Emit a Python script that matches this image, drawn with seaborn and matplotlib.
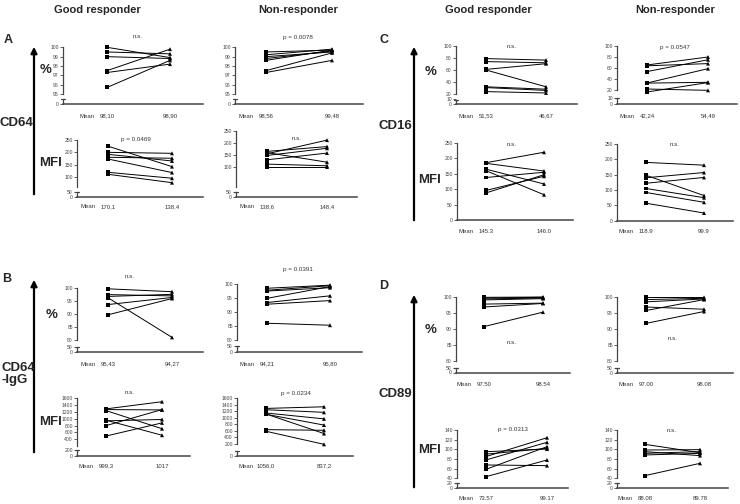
import numpy as np
import pandas as pd
import seaborn as sns
import matplotlib.pyplot as plt
from matplotlib.lines import Line2D
from matplotlib.patches import FancyArrowPatch

# ---- datos (antes / despues) ----
cd64_pct_good_pre = [100, 99.5, 99.0, 97.5, 97.3, 95.7]
cd64_pct_good_post = [98.9, 99.3, 98.8, 99.8, 98.2, 98.6]
cd64_pct_non_pre = [99.5, 99.2, 99.0, 98.8, 98.6, 97.5, 97.3]
cd64_pct_non_post = [99.7, 99.8, 99.5, 99.6, 99.7, 99.4, 98.6]
cd64_mfi_good_pre = [225, 200, 192, 180, 173, 119, 111]
cd64_mfi_good_post = [142, 196, 165, 176, 118, 95, 77]
cd64_mfi_non_pre = [165, 160, 155, 148, 130, 112, 100]
cd64_mfi_non_post = [185, 120, 212, 178, 158, 105, 100]

igg_pct_good_pre = [99.5, 97.3, 96.6, 96.1, 93.5, 89.6]
igg_pct_good_post = [98.4, 96.8, 97.4, 81.0, 96.2, 95.8]
igg_mfi_good_pre = [1290, 1270, 1240, 960, 940, 800, 495]
igg_mfi_good_post = [1500, 1260, 710, 519, 980, 1270, 880]
igg_pct_non_pre = [98.3, 97.6, 97.3, 94.7, 93.2, 92.6, 85.8]
igg_pct_non_post = [99.4, 99.2, 98.5, 98.9, 95.6, 93.9, 85.1]
igg_mfi_non_pre = [1290, 1250, 1150, 1120, 1110, 640, 590]
igg_mfi_non_post = [1340, 1170, 970, 520, 780, 620, 190]

cd16_pct_good_pre = [79, 74, 61, 60, 32, 30.7, 24]
cd16_pct_good_post = [76.5, 72, 70.5, 32, 28, 26, 21.7]
cd16_mfi_good_pre = [186, 184, 165, 160, 138, 96, 88]
cd16_mfi_good_post = [220, 159, 117, 82, 155, 142, 147]
cd16_pct_non_pre = [65.5, 64, 53.5, 32.7, 32.5, 21.8, 16.4]
cd16_pct_non_post = [80, 68, 75, 58.8, 34, 19.4, 33.5]
cd16_mfi_non_pre = [190, 148, 140, 122, 105, 92, 57]
cd16_mfi_non_post = [181, 82, 157, 141, 75, 60, 25]

cd89_pct_good_pre = [99.8, 99.6, 99.3, 99.0, 97.7, 96.8, 90.7]
cd89_pct_good_post = [99.9, 99.8, 99.6, 99.4, 98.0, 97.9, 95.2]
cd89_mfi_good_pre = [95, 90, 85, 78, 67.6, 58.6, 43.4]
cd89_mfi_good_post = [100.7, 102, 124, 114.5, 66.2, 105.5, 77.9]
cd89_pct_non_pre = [99.8, 99.1, 98.4, 96.8, 95.7, 91.7]
cd89_pct_non_post = [99.8, 99.5, 99.3, 96.1, 99.1, 95.4]
cd89_mfi_non_pre = [110.3, 98.6, 95.2, 91.7, 88.3, 45.5]
cd89_mfi_non_post = [93, 99.3, 86.9, 95.2, 91.7, 71]

# medias y p-valores tal como aparecen
means = {
    'a_pg': ('98,10', '98,90'), 'a_pn': ('98,56', '99,48'),
    'a_mg': ('170,1', '138,4'), 'a_mn': ('138,6', '148,4'),
    'b_pg': ('95,43', '94,27'), 'b_pn': ('94,21', '95,80'),
    'b_mg': ('999,3', '1017'), 'b_mn': ('1056,0', '837,2'),
    'c_pg': ('51,53', '46,67'), 'c_pn': ('42,24', '54,49'),
    'c_mg': ('145.3', '146.0'), 'c_mn': ('118.9', '99.9'),
    'd_pg': ('97.50', '98.54'), 'd_pn': ('97.00', '98.08'),
    'd_mg': ('73.57', '99.17'), 'd_mn': ('88.08', '89.78'),
}
notes = {
    'a_pg': 'n.s.', 'a_pn': 'p = 0.0078', 'a_mg': 'p = 0.0469', 'a_mn': 'n.s.',
    'b_pg': 'n.s.', 'b_pn': 'p = 0.0391', 'b_mg': 'n.s.', 'b_mn': 'p = 0.0234',
    'c_pg': 'n.s.', 'c_pn': 'p = 0.0547', 'c_mg': 'n.s.', 'c_mn': 'n.s.',
    'd_pg': 'n.s.', 'd_pn': 'n.s.', 'd_mg': 'p = 0.0313', 'd_mn': 'n.s.',
}

W, H = 740, 504
AX_C = '#444444'

sns.set_theme(style='ticks')
plt.rcParams['font.family'] = ['Liberation Sans', 'DejaVu Sans']

fig = plt.figure(figsize=(7.4, 5.04), dpi=100)


def fx(px):
    return px / W


def fy(py):
    return 1 - py / H


def fig_line(xs, ys, color=AX_C, lw=0.9):
    fig.add_artist(Line2D([fx(x) for x in xs], [fy(y) for y in ys],
                          transform=fig.transFigure, color=color, lw=lw))


def fig_text(x, y, s, **kw):
    kw.setdefault('ha', 'center')
    kw.setdefault('va', 'center')
    fig.text(fx(x), fy(y), s, **kw)


def draw_panel(key, pre, post, g):
    (v1, p1), (v2, p2) = g['ref']
    k = (p2 - p1) / (v1 - v2)

    def val(py):
        return v1 + (p1 - py) / k

    top_px = p1 - 4
    ax = fig.add_axes([fx(g['x0']), fy(g['base']), (g['x1'] - g['x0']) / W,
                       (g['base'] - top_px) / H])
    ax.set_facecolor('none')
    span = g['xr'] - g['xl']

    n = len(pre)
    df = pd.DataFrame({'id': list(range(n)) * 2,
                       't': [0] * n + [1] * n,
                       'v': list(pre) + list(post)})
    sns.lineplot(data=df, x='t', y='v', units='id', estimator=None,
                 color='black', lw=0.7, ax=ax, legend=False)
    sns.scatterplot(data=df, x='t', y='v', style='t', markers={0: 's', 1: '^'},
                    color='black', s=8, linewidth=0, ax=ax, legend=False)
    ax.set_ylim(val(g['base']), val(top_px))
    ax.set_xlim((g['x0'] - g['xl']) / span, (g['x1'] - g['xl']) / span)

    ticks = g['ticks']
    lower = g.get('lower', [])
    ax.set_yticks(list(ticks) + [val(py) for _, py in lower],
                  [str(t) for t in ticks] + [lab for lab, _ in lower])
    ax.set_xticks([])
    ax.set_xlabel('')
    ax.set_ylabel('')
    ax.tick_params(axis='y', length=2, width=0.6, pad=1, labelsize=3.6,
                   colors=AX_C)
    for s in ['top', 'right']:
        ax.spines[s].set_visible(False)
    ax.spines['left'].set_bounds(val(g['low']), ticks[0])
    ax.spines['left'].set_color(AX_C)
    ax.spines['left'].set_linewidth(0.9)
    ax.spines['bottom'].set_color(AX_C)
    ax.spines['bottom'].set_linewidth(1.1)

    # tramo inferior del eje cortado
    if lower:
        brk = min(py for _, py in lower)
        if brk >= g['base'] - 0.5:
            brk = g['base'] - 5
        fig_line([g['x0'], g['x0']], [g['base'], brk])
        fig_line([g['x0'] - 2, g['x0'] + 2], [brk, brk])

    # texto p / n.s.
    fig_text(g['note'][0], g['note'][1], notes[key], fontsize=4.5, color='#333333')
    # fila de medias
    my = g['mean_y']
    fig_text(g['xl'] - 20, my, 'Mean', fontsize=4.3, color='#333333')
    fig_text(g['xl'], my, means[key][0], fontsize=4.3, color='#333333')
    fig_text(g['xr'], my, means[key][1], fontsize=4.3, color='#333333')


pct_a = [100, 99, 98, 97, 96, 95]
mfi_a = [250, 200, 150, 100]
pct_bd = [100, 95, 90, 85, 80]
mfi_bg = [1600, 1400, 1200, 1000, 800, 600, 400]
mfi_bn = [1600, 1400, 1200, 1000, 800, 600, 400, 200]
pct_c = [100, 80, 60, 40, 20]
mfi_c = [250, 200, 150, 100, 50, 0]
mfi_d = [140, 120, 100, 80, 60, 40]

panels = [
    ('a_pg', cd64_pct_good_pre, cd64_pct_good_post,
     dict(x0=63, x1=203, base=104, ref=((100, 47.3), (95, 94)), low=94, ticks=pct_a,
          lower=[('0', 104)], xl=107, xr=170, note=(138, 37), mean_y=116)),
    ('a_pn', cd64_pct_non_pre, cd64_pct_non_post,
     dict(x0=235, x1=363, base=104, ref=((100, 47.3), (95, 94)), low=94, ticks=pct_a,
          lower=[('0', 104)], xl=266, xr=332, note=(298, 37), mean_y=116)),
    ('a_mg', cd64_mfi_good_pre, cd64_mfi_good_post,
     dict(x0=77, x1=203, base=197, ref=((250, 140), (100, 177)), low=187, ticks=mfi_a,
          lower=[('50', 192), ('0', 197)], xl=108, xr=172, note=(136, 140), mean_y=207)),
    ('a_mn', cd64_mfi_non_pre, cd64_mfi_non_post,
     dict(x0=236, x1=357, base=197, ref=((250, 131), (100, 167)), low=187, ticks=mfi_a,
          lower=[('50', 192), ('0', 197)], xl=267, xr=327, note=(297, 139), mean_y=207)),
    ('b_pg', igg_pct_good_pre, igg_pct_good_post,
     dict(x0=77, x1=203, base=351.7, ref=((100, 287.5), (80, 340)), low=340, ticks=pct_bd,
          lower=[('50', 347.2), ('0', 351.7)], xl=108, xr=172, note=(130, 277), mean_y=364)),
    ('b_pn', igg_pct_non_pre, igg_pct_non_post,
     dict(x0=237, x1=362, base=351.7, ref=((100, 283.5), (80, 339.5)), low=339.5, ticks=pct_bd,
          lower=[('50', 345.7), ('0', 351.7)], xl=267, xr=330, note=(298, 270), mean_y=364)),
    ('b_mg', igg_mfi_good_pre, igg_mfi_good_post,
     dict(x0=77, x1=190, base=455.7, ref=((1600, 398.3), (400, 439.3)), low=445.7, ticks=mfi_bg,
          lower=[('200', 450), ('0', 455.7)], xl=106, xr=162, note=(130, 393), mean_y=466)),
    ('b_mn', igg_mfi_non_pre, igg_mfi_non_post,
     dict(x0=237, x1=353, base=455.7, ref=((1600, 398.3), (200, 444)), low=444, ticks=mfi_bn,
          lower=[('0', 455.7)], xl=266, xr=324, note=(296, 393), mean_y=466)),
    ('c_pg', cd16_pct_good_pre, cd16_pct_good_post,
     dict(x0=456, x1=577, base=104, ref=((100, 46), (20, 94)), low=94, ticks=pct_c,
          lower=[('10', 99.5), ('0', 104)], xl=486, xr=546, note=(512, 47), mean_y=116)),
    ('c_pn', cd16_pct_non_pre, cd16_pct_non_post,
     dict(x0=617, x1=737, base=104.3, ref=((100, 46), (20, 90)), low=90, ticks=pct_c,
          lower=[('10', 98.3), ('0', 104.3)], xl=647, xr=708, note=(675, 47), mean_y=116)),
    ('c_mg', cd16_mfi_good_pre, cd16_mfi_good_post,
     dict(x0=457, x1=573, base=220, ref=((250, 143), (0, 220)), low=220, ticks=mfi_c,
          xl=486, xr=544, note=(512, 145), mean_y=232)),
    ('c_mn', cd16_mfi_non_pre, cd16_mfi_non_post,
     dict(x0=617, x1=733, base=220.7, ref=((250, 144), (0, 220.7)), low=220.7, ticks=mfi_c,
          xl=646, xr=704, note=(675, 144), mean_y=232)),
    ('d_pg', cd89_pct_good_pre, cd89_pct_good_post,
     dict(x0=456, x1=570, base=372.5, ref=((100, 296.7), (80, 361)), low=361, ticks=pct_bd,
          lower=[('50', 367.5), ('0', 372.5)], xl=484, xr=543, note=(512, 343), mean_y=385)),
    ('d_pn', cd89_pct_non_pre, cd89_pct_non_post,
     dict(x0=617, x1=733, base=373.3, ref=((100, 296.7), (80, 361)), low=361, ticks=pct_bd,
          lower=[('50', 367.8), ('0', 373.3)], xl=646, xr=704, note=(673, 339), mean_y=385)),
    ('d_mg', cd89_mfi_good_pre, cd89_mfi_good_post,
     dict(x0=457, x1=568, base=488, ref=((140, 430), (40, 478.3)), low=478.3, ticks=mfi_d,
          lower=[('20', 483.3), ('0', 488)], xl=486, xr=547, note=(513, 430), mean_y=499)),
    ('d_mn', cd89_mfi_non_pre, cd89_mfi_non_post,
     dict(x0=617, x1=728, base=488, ref=((140, 430), (40, 478.3)), low=478.3, ticks=mfi_d,
          lower=[('20', 483.3), ('0', 488)], xl=645, xr=700, note=(672, 431), mean_y=499)),
]

for key, pre, post, g in panels:
    draw_panel(key, pre, post, g)

# Encabezados
for x, s in [(97, 'Good responder'), (298, 'Non-responder'),
             (488, 'Good responder'), (675, 'Non-responder')]:
    fig_text(x, 10, s, fontsize=8, weight='bold')

# Letras de panel
for x, y, s in [(8, 40, 'A'), (7, 279, 'B'), (384, 40, 'C'), (384, 286, 'D')]:
    fig_text(x, y, s, fontsize=9, weight='bold')

# Flechas verticales
for x, y0, y1 in [(34, 197, 44), (34, 455, 277), (414, 223, 44), (414, 490, 292)]:
    fig.add_artist(FancyArrowPatch((fx(x), fy(y0)), (fx(x), fy(y1)),
                                   transform=fig.transFigure, arrowstyle='-|>',
                                   mutation_scale=9, lw=1.6, color='black'))

# Etiquetas de marcador
fig_text(33, 123, 'CD64', fontsize=9.5, weight='bold', ha='right')
fig_text(2, 374, 'CD64\n-IgG', fontsize=9.5, weight='bold', ha='left', linespacing=1.1)
fig_text(412, 126, 'CD16', fontsize=9.5, weight='bold', ha='right')
fig_text(412, 394, 'CD89', fontsize=9.5, weight='bold', ha='right')

for x, y in [(46, 70), (52, 315), (431, 72), (431, 330)]:
    fig_text(x, y, '%', fontsize=9.5, weight='bold')
for x, y in [(50, 163), (50, 422), (430, 180), (430, 450)]:
    fig_text(x, y, 'MFI', fontsize=9.5, weight='bold')

plt.savefig('out.png', dpi=100)
